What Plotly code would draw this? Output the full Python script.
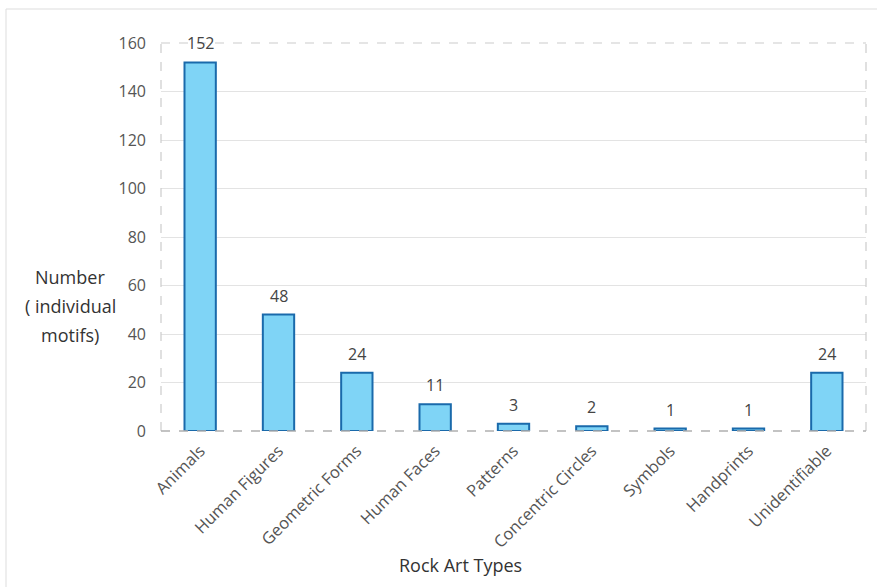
import plotly.graph_objects as go

categories = ["Animals", "Human Figures", "Geometric Forms", "Human Faces", "Patterns",
              "Concentric Circles", "Symbols", "Handprints", "Unidentifiable"]
counts = [152, 48, 24, 11, 3, 2, 1, 1, 24]
y_ticks = [0, 20, 40, 60, 80, 100, 120, 140, 160]
y_title_lines = ["Number", "( individual", "motifs)"]
x_title = "Rock Art Types"

W, H = 877, 587
L, R, T, B = 161, 11, 43, 156
pw, ph = W - L - R, H - T - B

def px_x(x):
    return (x - L) / pw

def px_y(y):
    return (H - B - y) / ph

FONT = "Open Sans"

fig = go.Figure()
fig.add_trace(go.Bar(
    x=categories, y=counts, width=0.4,
    marker=dict(color="#7fd4f6", line=dict(color="#1a6aab", width=2)),
    hoverinfo="x+y",
))

annotations = []
for c, v in zip(categories, counts):
    annotations.append(dict(x=c, y=v, text=str(v), showarrow=False, yshift=19,
                            font=dict(family=FONT, size=16, color="#444444")))
for i, line in enumerate(y_title_lines):
    annotations.append(dict(xref="paper", yref="paper", x=px_x(70), y=px_y(277 + 29 * i),
                            text=line, showarrow=False,
                            xanchor="center", yanchor="middle",
                            font=dict(family=FONT, size=18, color="#333333")))
annotations.append(dict(xref="paper", yref="paper", x=px_x(460), y=px_y(565),
                        text=x_title, showarrow=False,
                        xanchor="center", yanchor="middle",
                        font=dict(family=FONT, size=18, color="#333333")))

shapes = [
    dict(type="line", xref="paper", yref="paper", x0=0, x1=1, y0=1, y1=1,
         line=dict(color="#cccccc", width=1.2, dash="dash")),
    dict(type="line", xref="paper", yref="paper", x0=0, x1=0, y0=0, y1=1,
         line=dict(color="#cccccc", width=1.2, dash="dash")),
    dict(type="line", xref="paper", yref="paper", x0=1, x1=1, y0=0, y1=1,
         line=dict(color="#cccccc", width=1.2, dash="dash")),
    dict(type="line", xref="paper", yref="paper", x0=0, x1=1, y0=0, y1=0,
         line=dict(color="#b0b0b0", width=1.5, dash="dash")),
    dict(type="line", xref="paper", yref="paper", x0=px_x(6), x1=px_x(W + 5),
         y0=px_y(9), y1=px_y(9), line=dict(color="#dddddd", width=1)),
    dict(type="line", xref="paper", yref="paper", x0=px_x(6), x1=px_x(6),
         y0=px_y(9), y1=px_y(H + 5), line=dict(color="#dddddd", width=1)),
]

fig.update_layout(
    width=W, height=H,
    margin=dict(l=L, r=R, t=T, b=B),
    paper_bgcolor="white", plot_bgcolor="white",
    showlegend=False,
    font=dict(family=FONT, color="#555555"),
    annotations=annotations,
    shapes=shapes,
    bargap=0.6,
)
fig.update_xaxes(
    tickangle=-45, tickfont=dict(family=FONT, size=16.5, color="#555555"),
    showgrid=False, showline=False, ticks="", ticklabelstandoff=6,
)
fig.update_yaxes(
    range=[0, 160], tickvals=y_ticks, ticks="",
    tickfont=dict(family=FONT, size=16, color="#555555"),
    showgrid=True, gridcolor="#e3e3e3", gridwidth=1.2,
    zeroline=False, showline=False, ticklabelstandoff=14,
)

fig.write_html("out.html", config={"displayModeBar": False},
               post_script="document.body.style.margin='0px';")
